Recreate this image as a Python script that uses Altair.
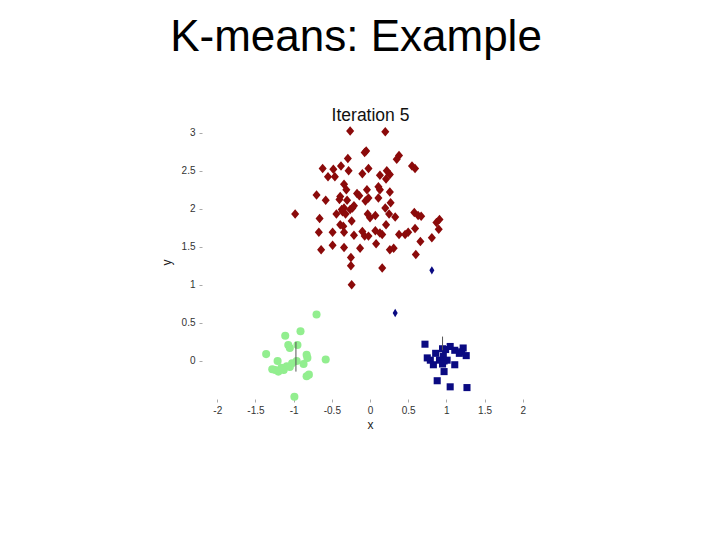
import altair as alt
import pandas as pd

# cluster 1 (dark red diamonds)
red_x = [-0.26, 0.20, -0.05, -0.07, 0.38, 0.35, -0.29, -0.62, -0.48, -0.38, -0.55, -0.46, -0.28, -0.10,
         -0.02, 0.22, 0.13, 0.21, 0.26, 0.55, 0.59, -0.34, -0.31, -0.04, 0.11, 0.13, 0.26, -0.70, -0.58,
         -0.39, -0.40, -0.30, -0.17, -0.14, -0.02, -0.06, 0.11, 0.27, -0.98, -0.66, -0.44, -0.37, -0.34,
         -0.36, -0.32, -0.26, -0.21, -0.23, -0.24, -0.03, 0.00, 0.07, 0.20, 0.25, 0.33, 0.58, 0.63, 0.67,
         0.87, 0.91, 0.90, -0.39, -0.35, 0.21, -0.67, -0.49, -0.34, -0.21, -0.10, -0.07, -0.02, 0.07, 0.13,
         0.16, 0.38, 0.46, 0.50, 0.59, 0.66, 0.81, -0.64, -0.49, -0.34, -0.13, 0.08, 0.26, 0.31, 0.60,
         -0.25, -0.25, 0.16, -0.24]
red_y = [3.02, 3.01, 2.76, 2.74, 2.70, 2.65, 2.66, 2.53, 2.52, 2.56, 2.42, 2.42, 2.50, 2.46,
         2.53, 2.50, 2.44, 2.39, 2.45, 2.56, 2.53, 2.32, 2.25, 2.25, 2.29, 2.25, 2.22, 2.18, 2.11,
         2.16, 2.12, 2.11, 2.20, 2.17, 2.14, 2.10, 2.14, 2.08, 1.93, 1.87, 1.93, 1.99, 2.01,
         1.96, 1.93, 1.99, 2.04, 2.01, 1.84, 1.93, 1.88, 1.91, 2.01, 1.93, 1.89, 1.95, 1.91, 1.90,
         1.82, 1.86, 1.73, 1.79, 1.77, 1.79, 1.69, 1.69, 1.69, 1.65, 1.70, 1.64, 1.64, 1.71, 1.68,
         1.66, 1.66, 1.66, 1.69, 1.74, 1.57, 1.62, 1.46, 1.52, 1.49, 1.48, 1.54, 1.46, 1.48, 1.40,
         1.36, 1.25, 1.22, 1.00]

# cluster 2 points drawn as small diamonds (navy)
bdia_x = [0.81, 0.33]
bdia_y = [1.19, 0.63]

# cluster 2 (navy squares)
blue_x = [0.72, 0.86, 0.95, 0.99, 1.05, 1.11, 1.22, 1.17, 1.20, 1.26, 0.75, 0.79, 0.91, 0.96, 0.97,
          1.01, 0.83, 0.95, 1.11, 0.97, 0.88, 1.05, 1.27]
blue_y = [0.22, 0.10, 0.16, 0.15, 0.19, 0.14, 0.17, 0.10, 0.12, 0.07, 0.04, 0.01, 0.01, 0.06, 0.00,
          0.01, -0.05, -0.04, -0.05, -0.14, -0.26, -0.34, -0.35]

# cluster 3 (light green circles)
green_x = [-0.70, -0.91, -1.11, -1.07, -1.05, -0.95, -1.36, -1.21, -0.83, -0.82, -0.58, -0.87, -0.96,
           -1.02, -1.09, -1.16, -1.24, -1.20, -1.13, -1.05, -0.83, -0.80, -0.99, -1.28]
green_y = [0.61, 0.39, 0.33, 0.21, 0.17, 0.21, 0.09, 0.00, 0.08, 0.04, 0.02, -0.04, 0.00,
           -0.03, -0.07, -0.09, -0.12, -0.14, -0.12, -0.08, -0.20, -0.18, -0.47, -0.11]

# centroid markers (vertical strokes)
cen_x = [-0.97, 0.95]
cen_y1 = [-0.14, 0.14]
cen_y2 = [0.25, 0.32]

x_ticks = [-2, -1.5, -1, -0.5, 0, 0.5, 1, 1.5, 2]
y_ticks = [0, 0.5, 1, 1.5, 2, 2.5, 3]

FONT = "Liberation Sans"
xs = alt.Scale(domain=[-2.2, 2.2], nice=False, zero=False)
ys = alt.Scale(domain=[-0.5, 3.1], nice=False, zero=False)

red_df = pd.DataFrame({"x": red_x, "y": red_y})
bdia_df = pd.DataFrame({"x": bdia_x, "y": bdia_y})
blue_df = pd.DataFrame({"x": blue_x, "y": blue_y})
green_df = pd.DataFrame({"x": green_x, "y": green_y})
cen_df = pd.DataFrame({"x": cen_x, "y1": cen_y1, "y2": cen_y2})

ax_common = dict(labelFont=FONT, labelFontSize=10, labelColor="#333333", tickColor="#aaaaaa",
                 tickSize=3, domain=False, grid=False, labelExpr="'' + datum.value",
                 titleFont=FONT, titleFontSize=12, titleFontWeight="normal", titleColor="#222222")

red = alt.Chart(red_df).mark_point(shape="M-0.85,0L0,-1L0.85,0L0,1Z", filled=True, opacity=1,
                                   color="#8b0a0a", size=90).encode(
    x=alt.X("x:Q", scale=xs, axis=alt.Axis(values=x_ticks, title="x", labelPadding=3, titlePadding=4, **ax_common)),
    y=alt.Y("y:Q", scale=ys, axis=alt.Axis(values=y_ticks, title="y", labelPadding=4, titlePadding=8, **ax_common)),
)

green = alt.Chart(green_df).mark_circle(color="#92ee8f", size=65, opacity=1).encode(
    x=alt.X("x:Q", scale=xs, axis=None), y=alt.Y("y:Q", scale=ys, axis=None))

blue = alt.Chart(blue_df).mark_square(color="#0a0a82", size=50, opacity=1).encode(
    x=alt.X("x:Q", scale=xs, axis=None), y=alt.Y("y:Q", scale=ys, axis=None))

bdia = alt.Chart(bdia_df).mark_point(shape="M-0.6,0L0,-1L0.6,0L0,1Z", filled=True, opacity=1,
                                     color="#0a0a82", size=70).encode(
    x=alt.X("x:Q", scale=xs, axis=None), y=alt.Y("y:Q", scale=ys, axis=None))

cen = alt.Chart(cen_df).mark_rule(color="#555555", strokeWidth=1).encode(
    x=alt.X("x:Q", scale=xs, axis=alt.Axis(orient="top", title="Iteration 5", labels=False, ticks=False,
                                           domain=False, grid=False, titleFont=FONT, titleFontSize=17.5,
                                           titleFontWeight="normal", titleColor="#111111", titlePadding=1)),
    y=alt.Y("y1:Q", scale=ys, axis=None),
    y2="y2:Q",
)

chart = alt.layer(red, green, blue, bdia, cen).resolve_axis(x="independent", y="independent").properties(
    width=336, height=274,
    autosize=alt.AutoSizeParams(type="none"),
    padding={"left": 194, "top": 117, "right": 174, "bottom": 133},
    title=alt.TitleParams("K-means: Example", font=FONT, fontSize=44, fontWeight="normal",
                          color="#000000", anchor="middle", dx=-14, offset=46),
).configure_view(stroke=None)

chart.save("out.html", embed_options={"renderer": "svg", "actions": False})
